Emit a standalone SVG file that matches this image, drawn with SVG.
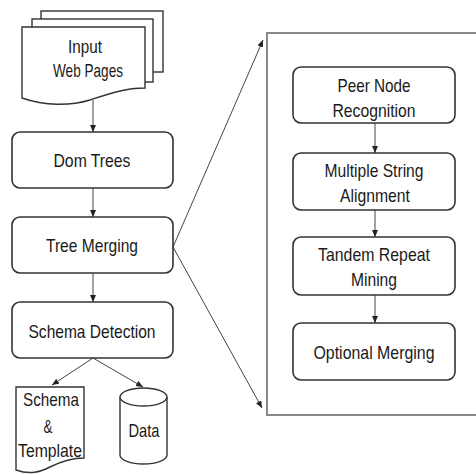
<svg xmlns="http://www.w3.org/2000/svg" width="476" height="475" viewBox="0 0 476 475">
<style>
.bx{fill:#fff;stroke:#333;stroke-width:1.6}
.pg{fill:#fff;stroke:#333;stroke-width:1.4}
.ln{fill:none;stroke:#444;stroke-width:1}
.t{font-family:"Liberation Sans",Arial,sans-serif;font-size:19px;fill:#1a1a1a;text-anchor:middle}
</style>
<defs>
<marker id="ah" markerUnits="userSpaceOnUse" markerWidth="8" markerHeight="7" refX="7" refY="3" orient="auto">
<path d="M0,0 L7,3 L0,6 z" fill="#222"/>
</marker>
</defs>
<rect width="476" height="475" fill="#fff"/>
<g id="connectors">
<line class="ln" x1="93" y1="100" x2="93" y2="132" marker-end="url(#ah)"/>
<line class="ln" x1="93" y1="188" x2="93" y2="217" marker-end="url(#ah)"/>
<line class="ln" x1="93" y1="273" x2="93" y2="302" marker-end="url(#ah)"/>
<line class="ln" x1="93" y1="358" x2="52" y2="385" marker-end="url(#ah)"/>
<line class="ln" x1="93" y1="358" x2="143" y2="387" marker-end="url(#ah)"/>
<line class="ln" x1="173" y1="247" x2="263" y2="40" marker-end="url(#ah)"/>
<line class="ln" x1="173" y1="247" x2="262" y2="408" marker-end="url(#ah)"/>
<line class="ln" x1="375" y1="123" x2="375" y2="153" marker-end="url(#ah)"/>
<line class="ln" x1="375" y1="210" x2="375" y2="237" marker-end="url(#ah)"/>
<line class="ln" x1="375" y1="295" x2="375" y2="323" marker-end="url(#ah)"/>
</g>
<g id="input-pages">
<rect class="pg" x="41" y="11" width="122" height="61"/>
<rect class="pg" x="32" y="19" width="121" height="63"/>
<path class="pg" d="M22,27 H145 V88 C125,88 108,94 90,100 C70,106 45,106 22,98 Z"/>
<text class="t" x="85" y="53" textLength="34" lengthAdjust="spacingAndGlyphs">Input</text>
<text class="t" x="88" y="77" textLength="70" lengthAdjust="spacingAndGlyphs">Web Pages</text>
</g>
<g id="dom-trees">
<rect class="bx" x="12" y="132" width="161" height="56" rx="8"/>
<text class="t" x="92" y="167" textLength="77" lengthAdjust="spacingAndGlyphs">Dom Trees</text>
</g>
<g id="tree-merging">
<rect class="bx" x="12" y="217" width="161" height="56" rx="8"/>
<text class="t" x="92" y="252" textLength="92" lengthAdjust="spacingAndGlyphs">Tree Merging</text>
</g>
<g id="schema-detection">
<rect class="bx" x="12" y="302" width="161" height="56" rx="8"/>
<text class="t" x="92" y="338" textLength="127" lengthAdjust="spacingAndGlyphs">Schema Detection</text>
</g>
<g id="schema-template">
<path class="pg" d="M16,387 H84 V458 C70,458 60,462 50,467 C40,472 30,475 16,470 Z"/>
<text class="t" x="51" y="406" textLength="56" lengthAdjust="spacingAndGlyphs">Schema</text>
<text class="t" x="48" y="433" textLength="9" lengthAdjust="spacingAndGlyphs">&amp;</text>
<text class="t" x="50" y="457" textLength="64" lengthAdjust="spacingAndGlyphs">Template</text>
</g>
<g id="data">
<path class="pg" d="M120,397 V455 A23.5,9 0 0 0 167,455 V397"/>
<ellipse class="pg" cx="143.5" cy="397" rx="23.5" ry="9"/>
<text class="t" x="144" y="437" textLength="31" lengthAdjust="spacingAndGlyphs">Data</text>
</g>
<g id="detail-panel">
<path d="M480,33 H267 V415 H480" fill="none" stroke="#888" stroke-width="2"/>
</g>
<g id="peer-node">
<rect class="bx" x="293" y="67" width="162" height="56" rx="8"/>
<text class="t" x="374" y="92" textLength="73" lengthAdjust="spacingAndGlyphs">Peer Node</text>
<text class="t" x="374" y="117" textLength="83" lengthAdjust="spacingAndGlyphs">Recognition</text>
</g>
<g id="multiple-string">
<rect class="bx" x="293" y="153" width="162" height="57" rx="8"/>
<text class="t" x="374" y="177" textLength="99" lengthAdjust="spacingAndGlyphs">Multiple String</text>
<text class="t" x="375" y="202" textLength="70" lengthAdjust="spacingAndGlyphs">Alignment</text>
</g>
<g id="tandem-repeat">
<rect class="bx" x="293" y="237" width="162" height="58" rx="8"/>
<text class="t" x="374" y="261" textLength="112" lengthAdjust="spacingAndGlyphs">Tandem Repeat</text>
<text class="t" x="374" y="286" textLength="46" lengthAdjust="spacingAndGlyphs">Mining</text>
</g>
<g id="optional-merging">
<rect class="bx" x="293" y="323" width="162" height="57" rx="8"/>
<text class="t" x="374" y="359" textLength="121" lengthAdjust="spacingAndGlyphs">Optional Merging</text>
</g>
</svg>
